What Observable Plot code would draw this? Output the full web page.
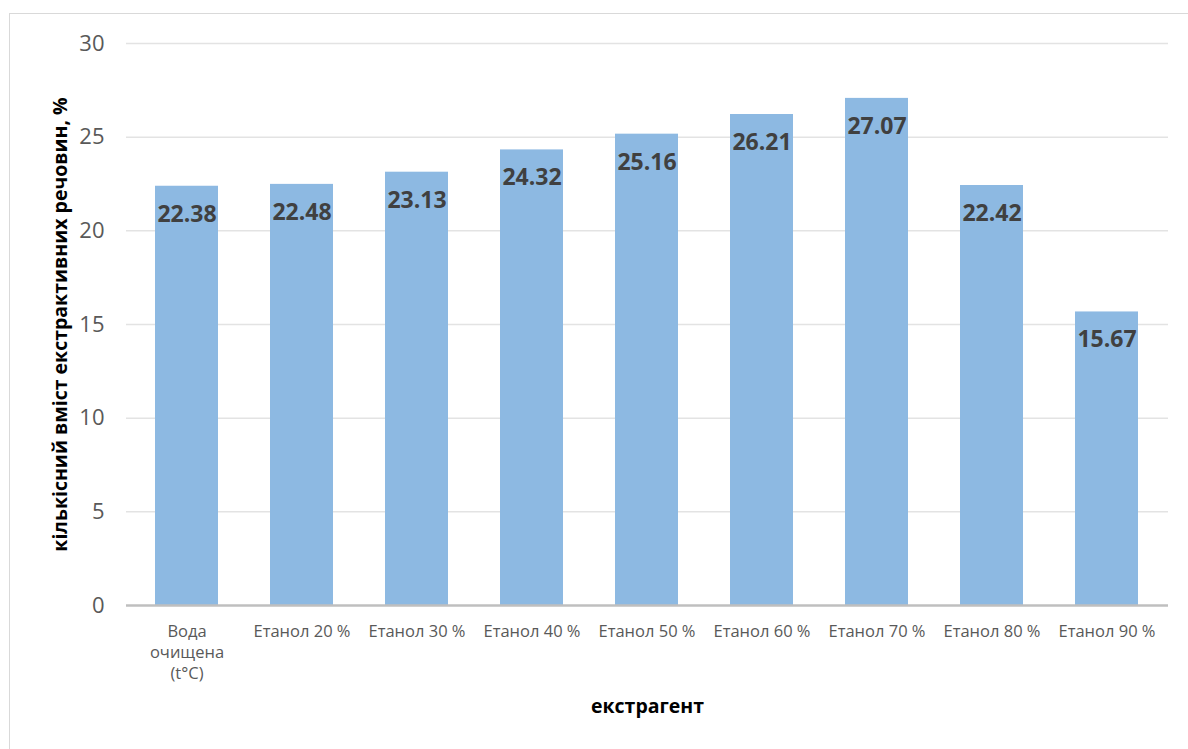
<!DOCTYPE html>
<html>
<head>
<meta charset="utf-8">
<script src="https://cdn.jsdelivr.net/npm/d3@7"></script>
<script src="https://cdn.jsdelivr.net/npm/@observablehq/plot@0.6"></script>
<style>
  html, body { margin: 0; padding: 0; background: #fff; }
  #wrap { position: relative; width: 1188px; height: 749px; overflow: hidden; }
  #frame { position: absolute; left: 9px; top: 13px; width: 1190px; height: 760px; border: 1px solid #d9d9d9; box-sizing: border-box; }
  #chart { position: absolute; left: 0; top: 0; }
</style>
</head>
<body>
<div id="wrap"><div id="frame"></div><div id="chart"></div></div>
<script>
const categories = ["Вода\nочищена\n(t°C)", "Етанол 20 %", "Етанол 30 %", "Етанол 40 %", "Етанол 50 %", "Етанол 60 %", "Етанол 70 %", "Етанол 80 %", "Етанол 90 %"];
const values = [22.38, 22.48, 23.13, 24.32, 25.16, 26.21, 27.07, 22.42, 15.67];
const yTicks = [0, 5, 10, 15, 20, 25, 30];
const yTitle = "кількісний вміст екстрактивних речовин, %";
const xTitle = "екстрагент";

const data = categories.map((c, i) => ({cat: c, value: values[i]}));
const font = "'Open Sans', 'Noto Sans', sans-serif";

const chart = Plot.plot({
  width: 1188,
  height: 749,
  marginLeft: 126,
  marginRight: 20,
  marginTop: 43,
  marginBottom: 144,
  style: {fontFamily: font, background: "transparent"},
  x: {domain: categories, paddingInner: 0.45, paddingOuter: 0.225, label: null},
  y: {domain: [0, 30], ticks: yTicks, label: null},
  marks: [
    Plot.gridY(yTicks.filter(d => d > 0), {stroke: "#e3e3e3", strokeOpacity: 1, strokeWidth: 1.5}),
    Plot.barY(data, {x: "cat", y: "value", fill: "#8DB9E2"}),
    Plot.ruleY([0], {stroke: "#bfbfbf", strokeWidth: 2.5}),
    Plot.text(data, {x: "cat", y: "value", text: d => d.value.toFixed(2), dy: 28, fontSize: 23, fontWeight: "bold", fill: "#404040"}),
    Plot.axisY({ticks: yTicks, tickSize: 0, tickPadding: 22, fontSize: 22, color: "#595959", label: null}),
    Plot.axisX({tickSize: 0, tickPadding: 17, fontSize: 16.5, color: "#595959", lineHeight: 1.27, label: null}),
    Plot.text([yTitle], {frameAnchor: "left", textAnchor: "middle", dx: -66, rotate: -90, fontSize: 19.5, fontWeight: "bold", fill: "#000"}),
    Plot.text([xTitle], {frameAnchor: "bottom", dy: 107, fontSize: 19.5, fontWeight: "bold", fill: "#000"})
  ]
});
document.getElementById("chart").appendChild(chart);
</script>
</body>
</html>
